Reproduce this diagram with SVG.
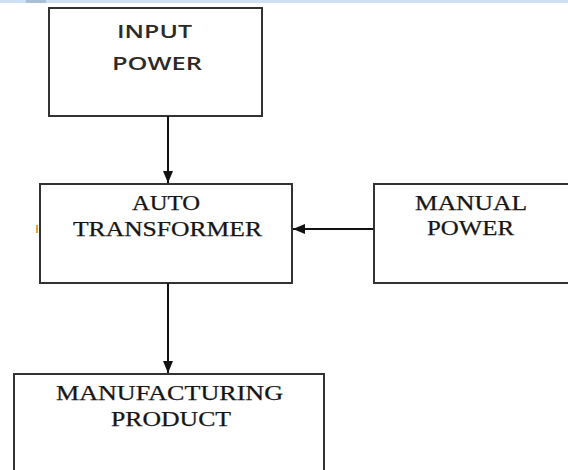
<svg xmlns="http://www.w3.org/2000/svg" width="568" height="470" viewBox="0 0 568 470">
<style>
.box{fill:#fff;stroke:#333;stroke-width:2}
.sans{font-family:"Open Sans","Liberation Sans",Arial,sans-serif;font-size:18px;font-weight:600;fill:#2e2a26}
.serif{font-family:"Liberation Serif","Times New Roman",serif;font-size:20px;fill:#151515;stroke:#151515;stroke-width:0.25}
.conn{stroke:#111;stroke-width:2;fill:none}
</style>
<defs>
<marker id="ah" viewBox="0 0 12 10" refX="12" refY="5" markerWidth="12" markerHeight="11" markerUnits="userSpaceOnUse" orient="auto">
<path d="M0,0 L12,5 L0,10 Z" fill="#111"/>
</marker>
</defs>
<rect x="0" y="0" width="568" height="3" fill="#cfe0f3"/>
<rect x="26" y="0" width="20" height="3" fill="#a9bfd6"/>
<g id="input-power">
<rect class="box" x="49" y="8" width="213" height="108"/>
<text class="sans" x="117" y="38" textLength="75" lengthAdjust="spacingAndGlyphs">INPUT</text>
<text class="sans" x="112" y="70" textLength="90" lengthAdjust="spacingAndGlyphs">POWER</text>
</g>
<g id="auto-transformer">
<rect class="box" x="40" y="184" width="252" height="99"/>
<text class="serif" x="132" y="210" textLength="68" lengthAdjust="spacingAndGlyphs">AUTO</text>
<text class="serif" x="73" y="236" textLength="189" lengthAdjust="spacingAndGlyphs">TRANSFORMER</text>
<rect x="36" y="225" width="2" height="8" fill="#f0a030"/>
</g>
<g id="manual-power">
<rect class="box" x="374" y="184" width="200" height="99"/>
<text class="serif" x="415" y="210" textLength="112" lengthAdjust="spacingAndGlyphs">MANUAL</text>
<text class="serif" x="427" y="235" textLength="87" lengthAdjust="spacingAndGlyphs">POWER</text>
</g>
<g id="manufacturing-product">
<rect class="box" x="14" y="374" width="310" height="110"/>
<text class="serif" x="56" y="400" textLength="227" lengthAdjust="spacingAndGlyphs">MANUFACTURING</text>
<text class="serif" x="111" y="426" textLength="120" lengthAdjust="spacingAndGlyphs">PRODUCT</text>
</g>
<g id="connectors">
<line class="conn" x1="168" y1="116" x2="168" y2="183" marker-end="url(#ah)"/>
<line class="conn" x1="373" y1="229" x2="293" y2="229" marker-end="url(#ah)"/>
<line class="conn" x1="168" y1="283" x2="168" y2="373" marker-end="url(#ah)"/>
</g>
</svg>
